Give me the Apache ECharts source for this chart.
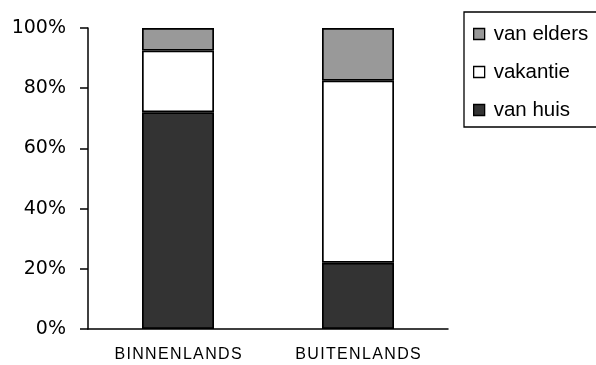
<!DOCTYPE html>
<html>
<head>
<meta charset="utf-8">
<script src="https://cdn.jsdelivr.net/npm/echarts@6/dist/echarts.min.js"></script>
<style>
  html, body { margin: 0; padding: 0; background: #fff; }
  #chart { width: 596px; height: 365px; }
</style>
</head>
<body>
<div id="chart"></div>
<script>
// Share of trips by origin, per destination type (percent, stacked to 100)
const categories = ['BINNENLANDS', 'BUITENLANDS'];
const vanHuis = [72, 22];
const vakantie = [20.5, 60.5];
const vanElders = [7.5, 17.5];
const yTicks = [0, 20, 40, 60, 80, 100];

const chart = echarts.init(document.getElementById('chart'), null, { renderer: 'canvas' });

const barBorder = { borderColor: '#000', borderWidth: 1.7 };

chart.setOption({
  animation: false,
  backgroundColor: '#fff',
  grid: { left: 88, right: 148, top: 28, bottom: 36, containLabel: false },
  legend: {
    orient: 'vertical',
    left: 464,
    top: 12,
    padding: [10, 60, 5, 9],
    itemGap: 14,
    itemWidth: 11,
    itemHeight: 11,
    icon: 'rect',
    borderColor: '#000',
    borderWidth: 1.3,
    data: ['van elders', 'vakantie', 'van huis'],
    textStyle: { fontFamily: 'Liberation Sans', fontSize: 20.5, color: '#000', lineHeight: 24, padding: [0, 0, 0, 4] },
    itemStyle: { borderColor: '#000', borderWidth: 1.3 }
  },
  xAxis: {
    type: 'category',
    data: categories,
    boundaryGap: true,
    axisLine: { lineStyle: { color: '#000', width: 1.5 } },
    axisTick: { length: 6, lineStyle: { color: '#000', width: 1.5 } },
    axisLabel: {
      margin: 18,
      color: '#000',
      fontFamily: 'Liberation Sans',
      fontSize: 16,
      formatter: v => v.split('').join('\u200A')
    }
  },
  yAxis: {
    type: 'value',
    min: yTicks[0],
    max: yTicks[yTicks.length - 1],
    interval: 20,
    splitLine: { show: false },
    axisLine: { show: true, lineStyle: { color: '#000', width: 1.5 } },
    axisTick: { show: true, length: 8, lineStyle: { color: '#000', width: 1.5 } },
    axisLabel: {
      margin: 22,
      color: '#000',
      fontFamily: 'DejaVu Sans',
      fontSize: 19,
      formatter: '{value}%'
    }
  },
  series: [
    { name: 'van huis', type: 'bar', stack: 'total', barWidth: '40%', data: vanHuis,
      itemStyle: Object.assign({ color: '#333333' }, barBorder) },
    { name: 'vakantie', type: 'bar', stack: 'total', data: vakantie,
      itemStyle: Object.assign({ color: '#ffffff' }, barBorder) },
    { name: 'van elders', type: 'bar', stack: 'total', data: vanElders,
      itemStyle: Object.assign({ color: '#999999' }, barBorder) }
  ]
});
</script>
</body>
</html>
